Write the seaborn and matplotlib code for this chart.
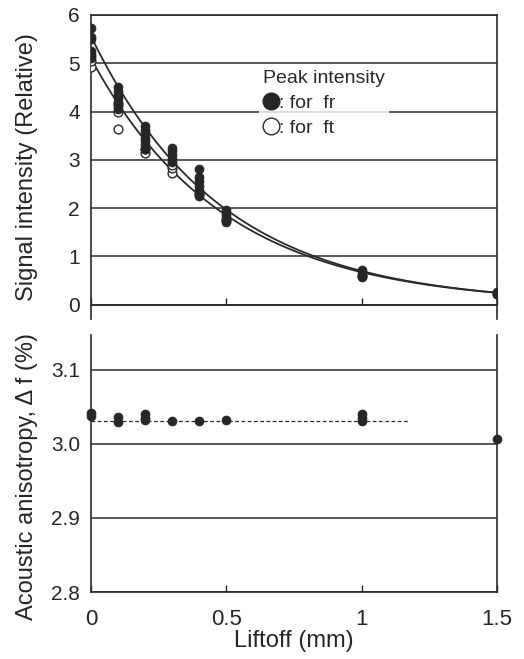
import numpy as np
import pandas as pd
import matplotlib
matplotlib.use("Agg")
import matplotlib.pyplot as plt
from matplotlib.lines import Line2D
import seaborn as sns

# ---------------- data ----------------
fr_liftoff = [0, 0, 0, 0, 0, 0, 0,
              0.1, 0.1, 0.1, 0.1, 0.1, 0.1, 0.1,
              0.2, 0.2, 0.2, 0.2, 0.2, 0.2, 0.2,
              0.3, 0.3, 0.3, 0.3, 0.3,
              0.4, 0.4, 0.4, 0.4, 0.4, 0.4, 0.4,
              0.5, 0.5, 0.5, 0.5, 0.5,
              1.0, 1.0, 1.0, 1.0,
              1.5, 1.5]
fr_signal = [5.73, 5.55, 5.5, 5.25, 5.2, 5.15, 5.1,
             4.5, 4.42, 4.35, 4.28, 4.2, 4.12, 4.05,
             3.7, 3.62, 3.55, 3.45, 3.38, 3.3, 3.22,
             3.25, 3.18, 3.1, 3.02, 2.95,
             2.8, 2.65, 2.55, 2.45, 2.38, 2.3, 2.25,
             1.95, 1.88, 1.82, 1.76, 1.7,
             0.72, 0.67, 0.62, 0.58,
             0.25, 0.22]

ft_liftoff = [0, 0, 0.1, 0.1, 0.1, 0.2, 0.2, 0.3, 0.3, 0.3, 0.4, 0.5, 1.0, 1.5]
ft_signal = [4.93, 5.05, 4.0, 3.64, 4.15, 3.15, 3.22, 2.72, 2.82, 2.9, 2.3, 1.75, 0.6, 0.22]

# exponential fit parameters: amplitude, decay
fit_names = ["fr", "ft"]
fit_amp = [5.56, 5.1]
fit_decay = [2.08, 2.03]

aniso_liftoff = [0, 0, 0.1, 0.1, 0.2, 0.2, 0.2, 0.3, 0.4, 0.5, 1.0, 1.0, 1.0, 1.5]
aniso_value = [3.042, 3.037, 3.036, 3.030, 3.040, 3.035, 3.032, 3.031, 3.031,
               3.032, 3.040, 3.035, 3.031, 3.006]
aniso_mean = 3.031
aniso_mean_end = 1.17

top_yticks = [0, 1, 2, 3, 4, 5, 6]
bot_yticks = [2.8, 2.9, 3.0, 3.1]
x_ticks = [0, 0.5, 1, 1.5]
x_ticklabels = ["0", "0.5", "1", "1.5"]

# ---------------- style ----------------
sns.set_theme(style="white")
plt.rcParams["font.family"] = ["Liberation Sans", "DejaVu Sans"]
ink = "#2a2a2a"
plt.rcParams["axes.edgecolor"] = ink
plt.rcParams["text.color"] = ink

fig = plt.figure(figsize=(5.24, 6.59), dpi=100)
L, W = 91 / 524, 406 / 524
ax1 = fig.add_axes([L, 1 - 319 / 659, W, (319 - 15) / 659])
ax2 = fig.add_axes([L, 1 - 592 / 659, W, (592 - 335) / 659])

# ---------------- top panel ----------------
xs = np.linspace(0, 1.5, 300)
for name, a, b in zip(fit_names, fit_amp, fit_decay):
    sns.lineplot(x=xs, y=a * np.exp(-b * xs), ax=ax1, color=ink, lw=1.3, zorder=2)

df_ft = pd.DataFrame({"x": ft_liftoff, "y": ft_signal})
df_fr = pd.DataFrame({"x": fr_liftoff, "y": fr_signal})
sns.scatterplot(data=df_ft, x="x", y="y", ax=ax1, marker="o", s=40,
                facecolor="white", edgecolor=ink, linewidth=1.0, zorder=3)
sns.scatterplot(data=df_fr, x="x", y="y", ax=ax1, marker="o", s=42,
                color="#262626", edgecolor="#262626", linewidth=0.5, zorder=4)

ax1.set_xlim(0, 1.5)
ax1.set_ylim(-0.3, 6)
ax1.set_yticks(top_yticks)
ax1.set_yticklabels([str(t) for t in top_yticks])
ax1.set_xticks(x_ticks)
ax1.set_xticklabels([])
ax1.spines["bottom"].set_position(("data", 0))
ax1.grid(axis="y", color=ink, lw=1.1)
ax1.set_axisbelow(True)
ax1.tick_params(axis="x", direction="in", length=5, width=1, color=ink, bottom=True)
ax1.tick_params(axis="y", length=0, pad=8, labelsize=15)
ax1.set_xlabel("")
ax1.set_ylabel("Signal intensity (Relative)", fontsize=17)
for s in ax1.spines.values():
    s.set_linewidth(1.2)

handles = [Line2D([], [], marker="o", ls="none", markersize=12,
                  markerfacecolor="#262626", markeredgecolor="#262626"),
           Line2D([], [], marker="o", ls="none", markersize=12,
                  markerfacecolor="white", markeredgecolor=ink, markeredgewidth=1)]
leg = ax1.legend(handles, [": for  fr", ": for  ft"], title="Peak intensity",
                 loc="upper left", bbox_to_anchor=(0.39, 0.865), frameon=True,
                 fontsize=14, title_fontsize=14, handletextpad=0.05,
                 labelspacing=0.38, borderpad=0.2, handlelength=0.8,
                 alignment="left")
leg.get_frame().set_facecolor("white")
leg.get_frame().set_edgecolor("none")

# ---------------- bottom panel ----------------
sns.lineplot(x=[0, aniso_mean_end], y=[aniso_mean, aniso_mean], ax=ax2,
             color=ink, lw=0.9, ls=(0, (3, 2)), zorder=2)
df_an = pd.DataFrame({"x": aniso_liftoff, "y": aniso_value})
sns.scatterplot(data=df_an, x="x", y="y", ax=ax2, marker="o", s=42,
                color="#262626", edgecolor="#262626", linewidth=0.5, zorder=4,
                clip_on=False)

ax2.set_xlim(0, 1.5)
ax2.set_ylim(2.8, 3.147)
ax2.set_yticks(bot_yticks)
ax2.set_yticklabels([f"{t:.1f}" for t in bot_yticks])
ax2.set_xticks(x_ticks)
ax2.set_xticklabels(x_ticklabels)
ax2.grid(axis="y", color=ink, lw=1.1)
ax2.set_axisbelow(True)
ax2.spines["top"].set_visible(False)
ax2.tick_params(axis="x", direction="in", length=5, width=1, color=ink,
                bottom=True, pad=12, labelsize=16)
ax2.tick_params(axis="y", length=0, pad=8, labelsize=15)
ax2.set_xlabel("Liftoff (mm)", fontsize=17, labelpad=0)
ax2.set_ylabel("Acoustic anisotropy, \u0394 f (%)", fontsize=17)
for s in ax2.spines.values():
    s.set_linewidth(1.2)

ax1.yaxis.set_label_coords(-0.13, 0.5)
ax2.yaxis.set_label_coords(-0.13, 0.45)

fig.savefig("out.png", dpi=100)
